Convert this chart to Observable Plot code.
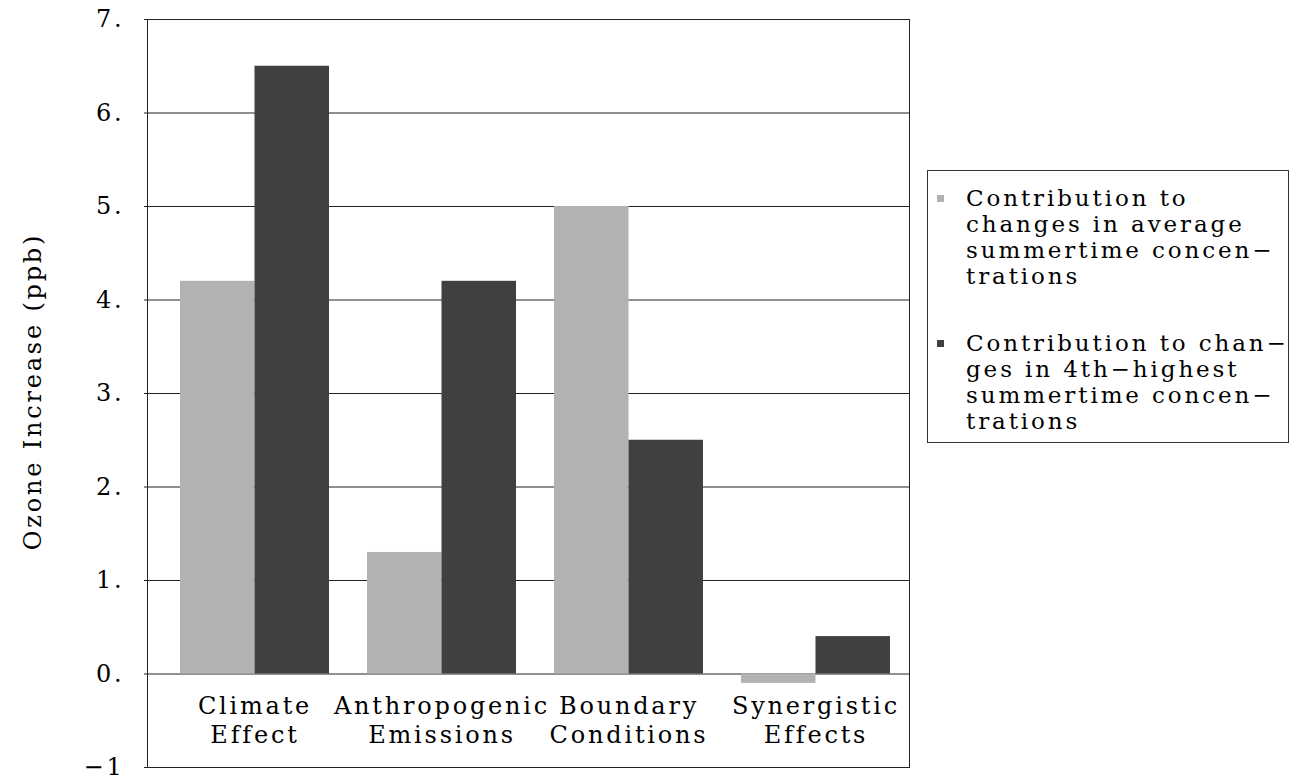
<!DOCTYPE html>
<html>
<head>
<meta charset="utf-8">
<script src="https://cdn.jsdelivr.net/npm/d3@7"></script>
<script src="https://cdn.jsdelivr.net/npm/@observablehq/plot@0.6"></script>
<style>
  html, body { margin: 0; padding: 0; background: #fff; }
  #wrap { position: relative; width: 1290px; height: 776px; overflow: hidden; }
  #chart { position: absolute; left: 0; top: 0; }
  #legend {
    position: absolute; left: 927px; top: 170px; width: 362px; height: 273px;
    border: 1px solid #333; box-sizing: border-box;
    font-family: "DejaVu Serif", serif; font-size: 23px; letter-spacing: 2.9px;
    line-height: 26px; color: #000;
  }
  .entry { position: absolute; left: 38px; white-space: pre; }
  .sw { position: absolute; left: 9px; width: 7px; height: 7px; }
</style>
</head>
<body>
<div id="wrap">
  <div id="chart"></div>
  <div id="legend"></div>
</div>
<script>
// ---- data ----
const categories = ["Climate\nEffect", "Anthropogenic\nEmissions", "Boundary\nConditions", "Synergistic\nEffects"];
const avgValues = [4.2, 1.3, 5.0, -0.1];
const highValues = [6.5, 4.2, 2.5, 0.4];
const seriesNames = [
  "Contribution to\nchanges in average\nsummertime concen−\ntrations",
  "Contribution to chan−\nges in 4th−highest\nsummertime concen−\ntrations"
];
const seriesColors = ["#b2b2b2", "#404040"];
const yTicks = [-1, 0, 1, 2, 3, 4, 5, 6, 7];
const yTickLabels = ["−1", "0.", "1.", "2.", "3.", "4.", "5.", "6.", "7."];
const gridTicks = [0, 1, 2, 3, 4, 5, 6];
const yLabel = "Ozone Increase (ppb)";

// ---- layout ----
const W = 912, H = 776, mL = 147, mR = 3, mT = 19, mB = 9;
const pIn = 0.2045, pOut = 0.1364, align = 0.626;
const bw = d3.scaleBand().domain(categories).range([mL, W - mR])
  .paddingInner(pIn).paddingOuter(pOut).align(align).bandwidth();
const half = bw / 2;

const avgData = categories.map((c, i) => ({cat: c, value: avgValues[i]}));
const highData = categories.map((c, i) => ({cat: c, value: highValues[i]}));

const chart = Plot.plot({
  width: W, height: H,
  marginLeft: mL, marginRight: mR, marginTop: mT, marginBottom: mB,
  style: {fontFamily: "DejaVu Serif, serif", fontSize: "24px", letterSpacing: "2.8px", color: "#000", background: "#fff"},
  x: {type: "band", domain: categories, paddingInner: pIn, paddingOuter: pOut, align: align, axis: null},
  y: {domain: [-1, 7], axis: null},
  marks: [
    Plot.ruleY(gridTicks, {stroke: "#222", strokeWidth: 1}),
    Plot.barY(avgData, {x: "cat", y: "value", fill: seriesColors[0], insetLeft: 0, insetRight: half}),
    Plot.barY(highData, {x: "cat", y: "value", fill: seriesColors[1], insetRight: 0, insetLeft: half}),
    Plot.frame({stroke: "#222", strokeWidth: 1}),
    Plot.axisY({ticks: yTicks, tickFormat: (d) => yTickLabels[yTicks.indexOf(d)], tickSize: 3, tickPadding: 20, fontSize: 24, label: null, stroke: "#222"}),
    Plot.text(categories, {x: (d) => d, y: () => 0, text: (d) => d, lineAnchor: "top", dy: 19, lineHeight: 1.22, fontSize: 24}),
    Plot.text([yLabel], {frameAnchor: "left", textAnchor: "middle", rotate: -90, dx: -114, dy: -2, text: (d) => d, fontSize: 24})
  ]
});
document.getElementById("chart").appendChild(chart);

// ---- legend ----
const legend = document.getElementById("legend");
const tops = [14, 159];
seriesNames.forEach((name, i) => {
  const sw = document.createElement("div");
  sw.className = "sw";
  sw.style.background = seriesColors[i];
  sw.style.top = (tops[i] + 10) + "px";
  legend.appendChild(sw);
  const t = document.createElement("div");
  t.className = "entry";
  t.style.top = tops[i] + "px";
  t.textContent = name;
  legend.appendChild(t);
});
</script>
</body>
</html>
